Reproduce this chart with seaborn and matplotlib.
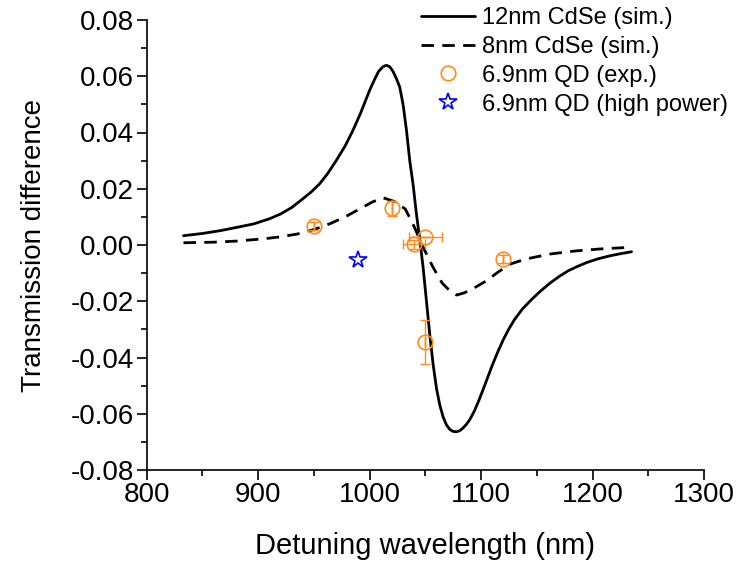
import numpy as np
import pandas as pd
import matplotlib
matplotlib.use("Agg")
import matplotlib.pyplot as plt
from matplotlib.ticker import MultipleLocator, FormatStrFormatter
import seaborn as sns

# ---- data ----
wl_12nm = [833, 850, 866, 880, 896, 910, 920, 930, 940, 948, 955, 962, 970, 978,
           985, 992, 1000, 1004, 1008, 1012, 1015, 1018, 1021, 1024, 1027, 1030,
           1033, 1036, 1039, 1042, 1045, 1048, 1051, 1054, 1057, 1060, 1063, 1066,
           1069, 1072, 1075, 1078, 1081, 1084, 1087, 1090, 1094, 1098, 1102, 1106,
           1110, 1115, 1120, 1125, 1130, 1137, 1145, 1153, 1162, 1170, 1178, 1186,
           1195, 1205, 1215, 1225, 1235]
td_12nm = [0.0033, 0.0041, 0.0051, 0.0062, 0.0075, 0.0093, 0.0110, 0.0133, 0.0164,
           0.0190, 0.0217, 0.0252, 0.0300, 0.0352, 0.0407, 0.0470, 0.0550, 0.0585,
           0.0617, 0.0634, 0.0639, 0.0634, 0.0617, 0.0592, 0.0562, 0.0500, 0.0410,
           0.0300, 0.0215, 0.0110, 0.0020, -0.0080, -0.0200, -0.0320, -0.0425,
           -0.0510, -0.0570, -0.0612, -0.0640, -0.0656, -0.0663, -0.0664, -0.0660,
           -0.0650, -0.0637, -0.0620, -0.0590, -0.0553, -0.0512, -0.0470, -0.0428,
           -0.0380, -0.0336, -0.0298, -0.0265, -0.0228, -0.0195, -0.0165, -0.0135,
           -0.0112, -0.0092, -0.0077, -0.0062, -0.0049, -0.0039, -0.0031, -0.0024]

wl_8nm = [833, 860, 881, 905, 920, 935, 950, 964, 978, 991, 1002, 1012, 1022, 1032,
          1040, 1048, 1057, 1065, 1072, 1078, 1085, 1095, 1105, 1115, 1126, 1140,
          1162, 1185, 1207, 1235]
td_8nm = [0.0008, 0.0010, 0.0014, 0.0022, 0.0029, 0.0039, 0.0055, 0.0075, 0.0100,
          0.0128, 0.0152, 0.0168, 0.0155, 0.0128, 0.0065, -0.0008, -0.0080, -0.0135,
          -0.0163, -0.0178, -0.0170, -0.0150, -0.0127, -0.0097, -0.0068, -0.0050,
          -0.0032, -0.0021, -0.0014, -0.0008]

wl_exp = [950, 1020, 1040, 1050, 1050, 1120]
td_exp = [0.0067, 0.0130, 0.0002, 0.0030, -0.0345, -0.0050]
xerr_exp = [0, 0, 10, 15, 0, 0]
yerr_exp = [0.0015, 0.0028, 0.0015, 0.0, 0.0077, 0.0015]

wl_hp = [990]
td_hp = [-0.0052]

labels = ["12nm CdSe (sim.)", "8nm CdSe (sim.)", "6.9nm QD (exp.)", "6.9nm QD (high power)"]
xticks = [800, 900, 1000, 1100, 1200, 1300]
yticks = [-0.08, -0.06, -0.04, -0.02, 0.00, 0.02, 0.04, 0.06, 0.08]

ORANGE = "#FF8C1A"
BLUE = "#0000FF"

sns.set_style("ticks")
plt.rcParams["font.family"] = ["Liberation Sans", "DejaVu Sans"]
plt.rcParams["axes.unicode_minus"] = False
plt.rcParams["text.color"] = "black"
plt.rcParams["axes.labelcolor"] = "black"

fig = plt.figure(figsize=(7.43, 5.64), dpi=100)
ax = fig.add_axes([146.7 / 743, 1 - 470 / 564, (704 - 146.7) / 743, (470 - 20) / 564])

df12 = pd.DataFrame({"wl": wl_12nm, "td": td_12nm})
df8 = pd.DataFrame({"wl": wl_8nm, "td": td_8nm})

sns.lineplot(data=df12, x="wl", y="td", ax=ax, color="black", lw=2.0,
             label=labels[0], sort=False)
sns.lineplot(data=df8, x="wl", y="td", ax=ax, color="black", lw=2.0,
             label=labels[1], sort=False, dashes=False, linestyle=(0, (4.5, 3)))

ax.errorbar(wl_exp, td_exp, xerr=xerr_exp, yerr=yerr_exp, fmt="none",
            ecolor=ORANGE, elinewidth=1.0, capsize=3.6, capthick=1.0, zorder=3)
ax.plot(wl_exp, td_exp, ls="none", marker="o", ms=10.5, mfc="none", mec=ORANGE,
        mew=1.2, label=labels[2], zorder=4)
ax.plot(wl_hp, td_hp, ls="none", marker="*", ms=13, mfc="none", mec=BLUE,
        mew=1.2, label=labels[3], zorder=4)

ax.set_xlim(800, 1300)
ax.set_ylim(-0.08, 0.08)
ax.set_xticks(xticks)
ax.set_yticks(yticks)
ax.xaxis.set_minor_locator(MultipleLocator(50))
ax.yaxis.set_minor_locator(MultipleLocator(0.01))
ax.yaxis.set_major_formatter(FormatStrFormatter("%.2f"))
ax.tick_params(which="major", direction="out", length=7, width=1.2, labelsize=20,
               colors="black", pad=2)
ax.tick_params(which="minor", direction="out", length=4.5, width=1.2, colors="black")
for s in ["top", "right"]:
    ax.spines[s].set_visible(False)
for s in ["left", "bottom"]:
    ax.spines[s].set_linewidth(1.2)
    ax.spines[s].set_color("black")

ax.set_xlabel("Detuning wavelength (nm)", fontsize=21, labelpad=17, color="black")
ax.set_ylabel("Transmission difference", fontsize=20, labelpad=17, color="black")

leg = ax.legend(loc="upper right", bbox_to_anchor=(728 / 743, 1 - 7 / 564),
                bbox_transform=fig.transFigure, frameon=False, fontsize=17,
                handlelength=2.3, handletextpad=0.3, labelspacing=0.29,
                borderaxespad=0, borderpad=0)
for t in leg.get_texts():
    t.set_color("black")

fig.savefig("out.png", dpi=100)
